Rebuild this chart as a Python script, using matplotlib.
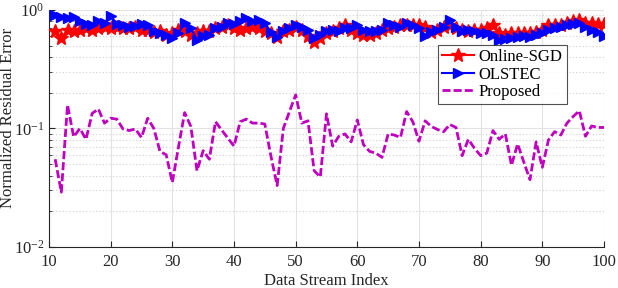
import numpy as np
import matplotlib
matplotlib.use("Agg")
import matplotlib.pyplot as plt
from matplotlib.ticker import LogLocator, NullFormatter, FixedLocator

plt.rcParams['font.family'] = ['Liberation Serif', 'DejaVu Serif']
plt.rcParams['mathtext.fontset'] = 'custom'
plt.rcParams['mathtext.rm'] = 'Liberation Serif'
plt.rcParams['mathtext.it'] = 'Liberation Serif:italic'

idx = list(range(11, 101))

online_sgd = [0.66, 0.58, 0.68, 0.66, 0.68, 0.70, 0.68, 0.70, 0.72, 0.70,
              0.72, 0.70, 0.70, 0.72, 0.68, 0.68, 0.65, 0.66, 0.62, 0.64,
              0.68, 0.66, 0.62, 0.64, 0.66, 0.66, 0.70, 0.72, 0.74, 0.70,
              0.68, 0.70, 0.72, 0.70, 0.66, 0.64, 0.59, 0.66, 0.68, 0.72,
              0.68, 0.60, 0.54, 0.58, 0.64, 0.66, 0.70, 0.75, 0.68, 0.64,
              0.62, 0.61, 0.64, 0.68, 0.70, 0.72, 0.75, 0.74, 0.75, 0.75,
              0.72, 0.65, 0.68, 0.72, 0.75, 0.70, 0.68, 0.66, 0.68, 0.68,
              0.70, 0.75, 0.64, 0.62, 0.64, 0.64, 0.64, 0.64, 0.65, 0.68,
              0.75, 0.74, 0.75, 0.78, 0.80, 0.82, 0.78, 0.78, 0.76, 0.76]

olstec = [0.90, 0.88, 0.86, 0.87, 0.80, 0.76, 0.75, 0.80, 0.78, 0.89,
          0.76, 0.74, 0.72, 0.73, 0.76, 0.74, 0.66, 0.64, 0.62, 0.58,
          0.64, 0.78, 0.70, 0.56, 0.60, 0.62, 0.70, 0.72, 0.78, 0.76,
          0.80, 0.85, 0.80, 0.82, 0.78, 0.65, 0.59, 0.66, 0.70, 0.75,
          0.72, 0.68, 0.58, 0.62, 0.66, 0.68, 0.66, 0.70, 0.70, 0.75,
          0.68, 0.66, 0.66, 0.68, 0.78, 0.74, 0.72, 0.78, 0.74, 0.70,
          0.60, 0.65, 0.68, 0.72, 0.82, 0.72, 0.66, 0.68, 0.66, 0.64,
          0.64, 0.62, 0.56, 0.57, 0.58, 0.59, 0.60, 0.59, 0.62, 0.64,
          0.68, 0.70, 0.72, 0.74, 0.76, 0.78, 0.72, 0.68, 0.65, 0.60]

proposed = [0.055, 0.029, 0.158, 0.085, 0.100, 0.081, 0.134, 0.146, 0.111, 0.122,
            0.120, 0.099, 0.096, 0.099, 0.084, 0.122, 0.100, 0.064, 0.060, 0.035,
            0.070, 0.136, 0.104, 0.044, 0.065, 0.055, 0.114, 0.097, 0.083, 0.071,
            0.114, 0.120, 0.111, 0.111, 0.109, 0.058, 0.033, 0.100, 0.139, 0.192,
            0.111, 0.116, 0.044, 0.039, 0.133, 0.071, 0.086, 0.090, 0.077, 0.118,
            0.073, 0.064, 0.062, 0.057, 0.090, 0.088, 0.084, 0.139, 0.114, 0.078,
            0.116, 0.104, 0.098, 0.094, 0.108, 0.102, 0.059, 0.081, 0.068, 0.059,
            0.062, 0.096, 0.081, 0.090, 0.049, 0.074, 0.052, 0.037, 0.077, 0.047,
            0.080, 0.094, 0.088, 0.111, 0.126, 0.141, 0.086, 0.105, 0.102, 0.102]

xticks = [10, 20, 30, 40, 50, 60, 70, 80, 90, 100]

fig = plt.figure(figsize=(6.18, 2.88), dpi=100)
ax = fig.add_axes([0.0793, 0.1424, 0.898, 0.823])

ax.plot(idx, online_sgd, color='#ff0000', lw=1.5, marker='*', ms=10,
        label='Online-SGD', zorder=3)
ax.plot(idx, olstec, color='#0000ff', lw=1.5, marker='>', ms=7.5,
        label='OLSTEC', zorder=4)
ax.plot(idx, proposed, color='#bf00bf', lw=2.0, ls=(0, (2.9, 1.1)),
        label='Proposed', zorder=5)

ax.set_yscale('log')
ax.set_xlim(10, 100)
ax.set_ylim(1e-2, 1)
ax.set_xticks(xticks)
ax.set_xticklabels([str(t) for t in xticks])
ax.yaxis.set_major_locator(FixedLocator([1e-2, 1e-1, 1]))
ax.set_yticklabels([r'$10^{-2}$', r'$10^{-1}$', r'$10^{0}$'])
ax.yaxis.set_minor_locator(LogLocator(base=10, subs=np.arange(2, 10)))
ax.yaxis.set_minor_formatter(NullFormatter())

ax.grid(True, which='major', color='#e3e3e3', lw=0.8, ls='-', zorder=0)
ax.grid(True, which='minor', axis='y', color='#d0d0d0', lw=0.8, ls=(0, (1, 2)), zorder=0)
ax.set_axisbelow(True)

for s in ['top', 'right']:
    ax.spines[s].set_visible(False)
for s in ['left', 'bottom']:
    ax.spines[s].set_color('#262626')
    ax.spines[s].set_linewidth(0.8)

ax.tick_params(axis='both', which='both', direction='in', colors='#262626',
               labelsize=12, top=False, right=False)
ax.tick_params(axis='both', which='major', length=4)
ax.tick_params(axis='y', which='minor', length=2)
ax.tick_params(axis='x', pad=5)

ax.set_xlabel('Data Stream Index', fontsize=12, color='#262626', labelpad=2)
fig.text(8 / 618, 1 - 118 / 288, 'Normalized Residual Error', rotation=90,
         ha='center', va='center', fontsize=12, color='#262626')

handles, labels = ax.get_legend_handles_labels()
leg = ax.legend(handles, labels, loc='upper right', bbox_to_anchor=(0.933, 0.853),
                fontsize=12, frameon=True, fancybox=False, edgecolor='#262626',
                handlelength=1.9, handletextpad=0.3, borderpad=0.25,
                labelspacing=0.1, borderaxespad=0)
leg.get_frame().set_linewidth(0.8)
leg.set_zorder(10)

fig.savefig('out.png', dpi=100)
